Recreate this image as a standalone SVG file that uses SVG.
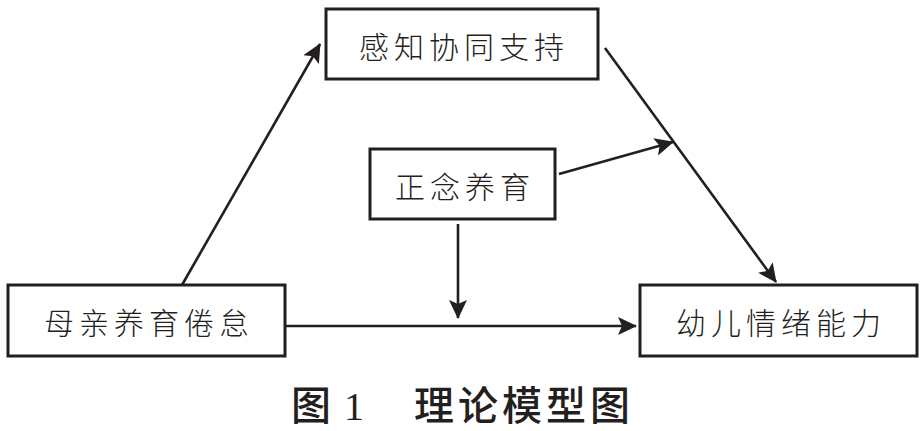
<svg xmlns="http://www.w3.org/2000/svg" width="921" height="431" viewBox="0 0 921 431">
<defs>
<style>
.box{fill:#fff;stroke:#231f20;stroke-width:3}
.lbl{font-family:"Noto Sans CJK SC","Noto Sans CJK JP",sans-serif;font-size:30px;fill:#231f20;text-anchor:middle;dominant-baseline:central;letter-spacing:5px;font-weight:300}
.edge{stroke:#231f20;stroke-width:2.6;fill:none;marker-end:url(#ah)}
.cap{font-family:"Noto Sans CJK SC","Noto Sans CJK JP",sans-serif;font-size:40px;fill:#231f20;font-weight:500}
</style>
<marker id="ah" viewBox="0 0 20 20" refX="18" refY="10" markerWidth="20" markerHeight="20" markerUnits="userSpaceOnUse" orient="auto">
<path d="M0,1 L19,10 L0,19 L4,10 Z" fill="#231f20"/>
</marker>
</defs>
<rect width="921" height="431" fill="#fff"/>
<g id="connectors">
<line class="edge" x1="182" y1="285" x2="320" y2="44"/>
<line class="edge" x1="605" y1="48" x2="776" y2="282"/>
<line class="edge" x1="559" y1="174" x2="673" y2="142"/>
<line class="edge" x1="458" y1="224" x2="458" y2="318"/>
<line class="edge" x1="285" y1="326" x2="636" y2="326"/>
</g>
<g id="node-perceived">
<rect class="box" x="326" y="9" width="272" height="70"/>
<text class="lbl" x="464" y="45">感知协同支持</text>
</g>
<g id="node-mindful">
<rect class="box" x="370" y="149" width="185" height="70"/>
<text class="lbl" x="465" y="185">正念养育</text>
</g>
<g id="node-burnout">
<rect class="box" x="8" y="285" width="277" height="71"/>
<text class="lbl" x="149" y="321">母亲养育倦怠</text>
</g>
<g id="node-emotion">
<rect class="box" x="640" y="285" width="277" height="71"/>
<text class="lbl" x="781" y="321">幼儿情绪能力</text>
</g>
<g id="caption">
<text class="cap" x="291" y="420">图</text>
<text x="344" y="420" font-family="Liberation Serif,serif" font-size="40" fill="#231f20">1</text>
<text class="cap" x="414" y="420" letter-spacing="4">理论模型图</text>
</g>
</svg>
